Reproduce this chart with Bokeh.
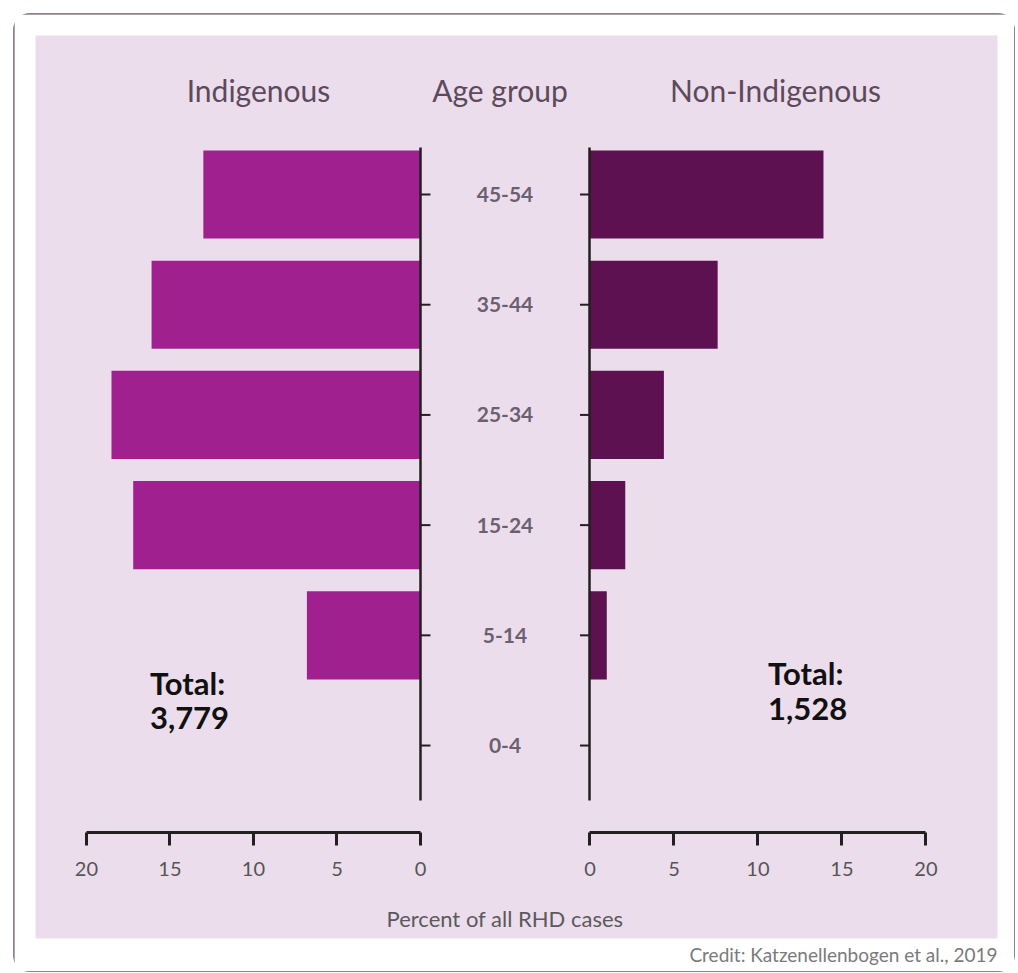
import math
from bokeh.plotting import figure
from bokeh.models import Range1d, LinearAxis, FixedTicker, Label, Title, ColumnDataSource
from bokeh.embed import file_html
from bokeh.resources import INLINE
from bokeh.core.properties import value

# ---- data ----
age_groups = ["0-4", "5-14", "15-24", "25-34", "35-44", "45-54"]
indigenous = [0.0, 6.8, 17.2, 18.5, 16.1, 13.0]
non_indigenous = [0.0, 1.0, 2.1, 4.4, 7.6, 13.9]
x_ticks = [0, 5, 10, 15, 20]
total_indigenous = "3,779"
total_non_indigenous = "1,528"
credit = "Credit: Katzenellenbogen et al., 2019"

# ---- styles ----
FONT = "Lato"
PANEL = "#ecdded"
IND_COLOR = "#a02090"
NON_COLOR = "#5d1150"
AXIS_COLOR = "#231f20"
TITLE_COLOR = "#5c4a5c"

pos = list(range(len(age_groups)))
src = ColumnDataSource(dict(y=pos, cat=age_groups, ind=indigenous, non=non_indigenous,
                            zero=[0] * len(pos)))

p = figure(width=1000, height=957,
           x_range=Range1d(23.05, -34.55), y_range=Range1d(-1.751, 6.443),
           output_backend="svg", toolbar_location=None,
           min_border_left=21, min_border_right=17, min_border_top=21, min_border_bottom=33,
           background_fill_color=PANEL, border_fill_color="white",
           outline_line_color=None, x_axis_location=None, y_axis_location=None)
p.extra_x_ranges = {"non": Range1d(-33.01, 24.26)}
for g in p.grid:
    g.visible = False
p.styles = {"margin-left": "14px", "margin-top": "14px",
            "outline": "2px solid #8f7f8f", "outline-offset": "-1px", "border-radius": "16px"}

# bars
p.hbar(y="y", left="zero", right="ind", height=0.8, source=src,
       fill_color=IND_COLOR, line_color=None)
p.hbar(y="y", left="zero", right="non", height=0.8, source=src,
       fill_color=NON_COLOR, line_color=None, x_range_name="non")

# horizontal axes
def h_axis(rng):
    return LinearAxis(x_range_name=rng, ticker=FixedTicker(ticks=x_ticks), bounds=(0, 20),
                      fixed_location=-0.789,
                      axis_line_width=3, axis_line_color=AXIS_COLOR,
                      major_tick_line_width=3, major_tick_line_color=AXIS_COLOR,
                      major_tick_out=13, major_tick_in=0,
                      minor_tick_out=0, minor_tick_in=0,
                      major_label_text_font=FONT, major_label_text_font_size="20px",
                      major_label_text_color="#555555", major_label_standoff=17)

p.add_layout(h_axis("default"), "below")
p.add_layout(h_axis("non"), "below")

# vertical axis lines (no ticks of their own) + short ticks toward the centre
def v_axis(rng):
    return LinearAxis(x_range_name=rng, ticker=FixedTicker(ticks=[]), bounds=(-0.5, 5.43),
                      fixed_location=0,
                      axis_line_width=2.5, axis_line_color=AXIS_COLOR,
                      major_tick_in=0, major_tick_out=0,
                      minor_tick_out=0, minor_tick_in=0)

p.add_layout(v_axis("default"), "left")
p.add_layout(v_axis("non"), "right")

p.ray(x="zero", y="y", length=10, length_units="screen", angle=0, source=src,
      line_color=AXIS_COLOR, line_width=2)
p.ray(x="zero", y="y", length=10, length_units="screen", angle=math.pi, source=src,
      line_color=AXIS_COLOR, line_width=2, x_range_name="non")

# category labels in the centre
p.text(x="zero", y="y", text="cat", source=src, x_range_name="non", x_offset=-85,
       text_align="center", text_baseline="middle", text_font=value(FONT),
       text_font_size="21px", text_font_style="bold", text_color="#6b6070")

# titles
title_kw = dict(text_font=FONT, text_font_size="30px", text_color=TITLE_COLOR,
                text_align="center", text_baseline="middle")
p.add_layout(Label(x=9.7, y=5.944, text="Indigenous", **title_kw))
p.add_layout(Label(x=0, y=5.944, x_offset=-90, x_range_name="non", text="Age group", **title_kw))
p.add_layout(Label(x=11.04, y=5.944, x_range_name="non", text="Non-Indigenous", **title_kw))

# totals
tot_kw = dict(text_font=FONT, text_font_size="31px", text_font_style="bold",
              text_color="#111111", text_align="left", text_baseline="middle",
              text_line_height=0.9)
p.add_layout(Label(x=16.2, y=0.41, text="Total:\n" + total_indigenous, **tot_kw))
p.add_layout(Label(x=10.6, y=0.5, x_range_name="non", text="Total:\n" + total_non_indigenous, **tot_kw))

# x axis title
p.add_layout(Label(x=0, y=-1.57, x_offset=-85, x_range_name="non", text="Percent of all RHD cases",
                   text_font=FONT, text_font_size="22px", text_color="#5a5a5a",
                   text_align="center", text_baseline="middle"))

# credit
p.add_layout(Title(text=credit, align="right", text_font=FONT, text_font_size="19px",
                   text_font_style="normal", text_color="#7a7a7a", standoff=4), "below")

open("out.html", "w").write(file_html(p, INLINE))
